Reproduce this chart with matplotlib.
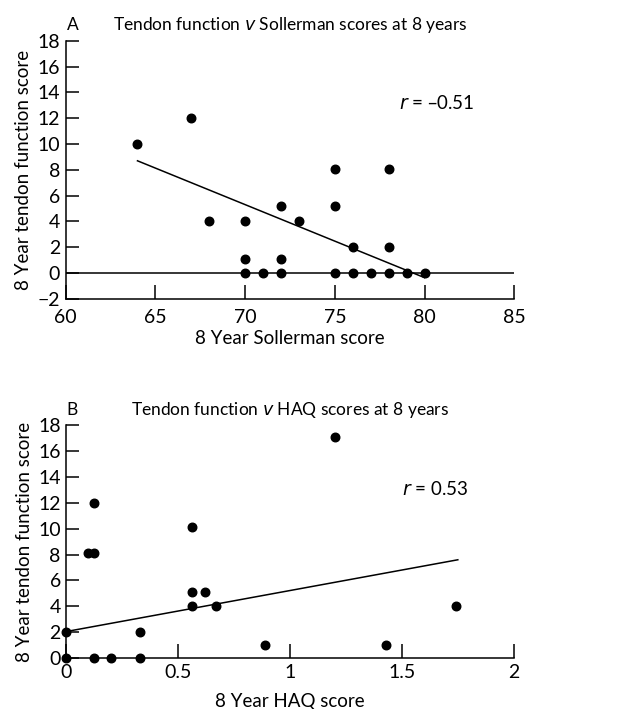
import matplotlib
matplotlib.use('Agg')
import matplotlib.pyplot as plt

plt.rcParams['font.family'] = ['Lato', 'DejaVu Sans']

# Panel A: Sollerman score vs tendon function score
sollerman = [64, 67, 68, 70, 70, 70, 71, 72, 72, 72, 73, 75, 75, 75, 76, 76, 77, 78, 78, 78, 79, 80]
tendon_a = [10, 12, 4, 4, 1.1, 0, 0, 5.2, 1.1, 0, 4, 8.1, 5.2, 0, 2, 0, 0, 8.1, 2, 0, 0, 0]
fit_a_x = [64, 80]
fit_a_y = [8.7, -0.35]

# Panel B: HAQ score vs tendon function score
haq = [0, 0, 0.095, 0.125, 0.125, 0.125, 0.2, 0.33, 0.33, 0.56, 0.56, 0.56, 0.62, 0.67, 0.89, 1.2, 1.43, 1.74]
tendon_b = [2, 0, 8.1, 8.1, 12, 0, 0, 2, 0, 10.1, 5.1, 4, 5.1, 4, 1, 17.1, 1, 4]
fit_b_x = [0, 1.75]
fit_b_y = [2.05, 7.6]

fig = plt.figure(figsize=(6.21, 7.09), dpi=100)
ax1 = fig.add_axes([0.1058, 0.5783, 0.7224, 0.3643])
ax2 = fig.add_axes([0.1068, 0.0719, 0.7205, 0.3282])

tick_fs = 14
label_fs = 13.5
title_fs = 12.5

def style(ax):
    for s in ['top', 'right']:
        ax.spines[s].set_visible(False)
    ax.spines['left'].set_linewidth(1.1)
    ax.spines['bottom'].set_linewidth(1.1)
    ax.tick_params(axis='y', direction='in', length=9, width=1.1, pad=4, labelsize=tick_fs)
    ax.tick_params(axis='x', direction='in', length=10, width=1.1, pad=7, labelsize=tick_fs)
    ax.set_ylabel('8 Year tendon function score', fontsize=label_fs, labelpad=4)

# --- panel A
ax1.axhline(0, color='black', lw=1.1)
ax1.scatter(sollerman, tendon_a, s=38, color='black', zorder=3, clip_on=False)
ax1.plot(fit_a_x, fit_a_y, color='black', lw=1.1)
ax1.set_xlim(60, 85)
ax1.set_ylim(-2, 18)
ax1.set_xticks([60, 65, 70, 75, 80, 85])
ax1.set_yticks(range(-2, 19, 2))
ax1.set_yticklabels(['\u22122' if v < 0 else str(v) for v in range(-2, 19, 2)])
style(ax1)
ax1.set_xlabel('8 Year Sollerman score', fontsize=label_fs, labelpad=3)
ax1.text(78.6, 13.2, '$r$ = \u20130.51', fontsize=label_fs, va='center')
ax1.text(0.003, 1.06, 'A', transform=ax1.transAxes, fontsize=title_fs, va='center')
ax1.text(0.5, 1.06, 'Tendon function $v$ Sollerman scores at 8 years', transform=ax1.transAxes,
         fontsize=title_fs, va='center', ha='center')

# --- panel B
ax2.scatter(haq, tendon_b, s=38, color='black', zorder=3, clip_on=False)
ax2.plot(fit_b_x, fit_b_y, color='black', lw=1.1)
ax2.set_xlim(0, 2)
ax2.set_ylim(0, 18)
ax2.set_xticks([0, 0.5, 1, 1.5, 2])
ax2.set_xticklabels(['0', '0.5', '1', '1.5', '2'])
ax2.set_yticks(range(0, 19, 2))
style(ax2)
ax2.tick_params(axis='x', pad=4)
ax2.set_xlabel('8 Year HAQ score', fontsize=label_fs, labelpad=9)
ax2.text(1.5, 13.1, '$r$ = 0.53', fontsize=label_fs, va='center')
ax2.text(0.0, 1.065, 'B', transform=ax2.transAxes, fontsize=title_fs, va='center')
ax2.text(0.5, 1.065, 'Tendon function $v$ HAQ scores at 8 years', transform=ax2.transAxes,
         fontsize=title_fs, va='center', ha='center')

fig.savefig('out.png', dpi=100)
